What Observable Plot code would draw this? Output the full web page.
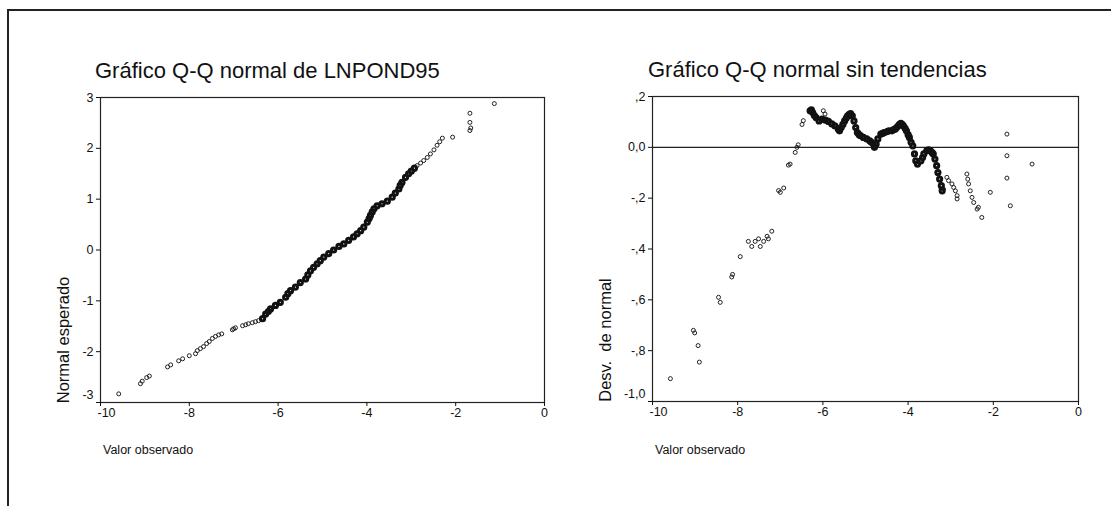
<!DOCTYPE html>
<html><head><meta charset="utf-8">
<script src="https://cdn.jsdelivr.net/npm/d3@7"></script>
<script src="https://cdn.jsdelivr.net/npm/@observablehq/plot@0.6"></script>
<style>
body{margin:0;background:#fff;width:1111px;height:506px;overflow:hidden;position:relative;font-family:Arial,"Liberation Sans",sans-serif;color:#111}
.abs{position:absolute;white-space:nowrap}
.title{font-size:22px;line-height:22px}
.xlab{font-size:12.5px;line-height:12.5px}
.ylab{font-size:16.5px;line-height:16.5px;transform:translate(-50%,-50%) rotate(-90deg)}
#frame{position:absolute;left:7px;top:9px;width:1200px;height:600px;border-top:2px solid #222;border-left:2px solid #222}
</style></head><body>
<div id="frame"></div>
<div id="left" class="abs" style="left:0;top:90px"></div>
<div id="right" class="abs" style="left:555px;top:90px"></div>
<div class="abs title" style="left:95px;top:60px">Gráfico Q-Q normal de LNPOND95</div>
<div class="abs title" style="left:648px;top:59px">Gráfico Q-Q normal sin tendencias</div>
<div class="abs xlab" style="left:103px;top:444px">Valor observado</div>
<div class="abs xlab" style="left:655px;top:444px">Valor observado</div>
<div class="abs ylab" style="left:63px;top:340px">Normal esperado</div>
<div class="abs ylab" style="left:605px;top:340px">Desv.&nbsp; de normal</div>
<script>
// tick values and labels
const xTicks = [-10, -8, -6, -4, -2, 0];
const leftYTicks = [-3, -2, -1, 0, 1, 2, 3];
const rightYTicks = [0.2, 0, -0.2, -0.4, -0.6, -0.8, -1.0];
const rightYTickLabels = [",2", "0,0", "-,2", "-,4", "-,6", "-,8", "-1,0"];

// Q-Q plot: isolated points (tails)
const qqSparseObs = [-9.59,-9.10,-9.06,-8.96,-8.90,-8.49,-8.42,-8.24,-8.15,-8.00,-7.86,-7.82,-7.75,-7.68,-7.61,-7.55,-7.48,-7.41,-7.34,-7.27,-7.03,-7.00,-6.96,-6.80,-6.73,-6.67,-6.58,-6.51,-6.44,
  -2.87,-2.79,-2.72,-2.64,-2.57,-2.49,-2.42,-2.36,-2.30,-2.07,-1.68,-1.68,-1.68,-1.66,-1.13];
const qqSparseExp = [-2.83,-2.63,-2.58,-2.51,-2.48,-2.30,-2.26,-2.18,-2.14,-2.08,-2.04,-1.98,-1.94,-1.90,-1.84,-1.80,-1.74,-1.70,-1.67,-1.65,-1.57,-1.55,-1.53,-1.49,-1.47,-1.45,-1.43,-1.41,-1.39,
  1.66,1.71,1.76,1.82,1.89,1.97,2.06,2.13,2.20,2.22,2.35,2.51,2.69,2.40,2.88];
// Q-Q plot: dense central run
const qqDenseObs = [-6.35,-6.28,-6.22,-6.17,-6.06,-5.95,-5.83,-5.78,-5.72,-5.61,-5.50,-5.38,-5.33,-5.27,-5.20,-5.12,-5.05,-4.97,-4.86,-4.75,-4.63,-4.52,-4.41,-4.30,-4.22,-4.14,-4.07,-3.99,-3.95,-3.92,-3.88,-3.84,-3.77,-3.66,-3.54,-3.43,-3.36,-3.28,-3.25,-3.21,-3.13,-3.06,-3.00,-2.93];
const qqDenseExp = [-1.35,-1.26,-1.21,-1.16,-1.09,-1.03,-0.93,-0.86,-0.80,-0.73,-0.64,-0.57,-0.49,-0.41,-0.34,-0.27,-0.21,-0.14,-0.07,0.00,0.07,0.12,0.19,0.26,0.32,0.38,0.45,0.55,0.62,0.68,0.75,0.81,0.87,0.91,0.96,1.04,1.12,1.20,1.27,1.33,1.43,1.50,1.55,1.61];

// Detrended plot: isolated points
const detSparseObs = [-9.58,-9.04,-9.01,-8.93,-8.90,-8.45,-8.41,-8.14,-8.12,-7.94,-7.75,-7.67,-7.59,-7.51,-7.47,-7.39,-7.31,-7.28,-7.20,-7.04,-7.00,-6.92,-6.81,-6.77,-6.65,-6.61,-6.58,-6.49,-6.46,-5.99,-5.95,
  -3.17,-3.09,-3.05,-2.97,-2.93,-2.89,-2.85,-2.85,-2.62,-2.60,-2.58,-2.54,-2.50,-2.46,-2.38,-2.35,-2.27,-2.07,-1.68,-1.68,-1.68,-1.60,-1.09];
const detSparseDev = [-0.91,-0.72,-0.73,-0.78,-0.845,-0.59,-0.61,-0.51,-0.50,-0.43,-0.37,-0.39,-0.37,-0.36,-0.39,-0.37,-0.35,-0.36,-0.33,-0.17,-0.177,-0.16,-0.07,-0.066,-0.02,0.0,0.01,0.09,0.105,0.144,0.131,
  -0.164,-0.118,-0.131,-0.144,-0.158,-0.171,-0.190,-0.203,-0.105,-0.125,-0.144,-0.171,-0.197,-0.217,-0.243,-0.236,-0.276,-0.177,0.052,-0.033,-0.121,-0.230,-0.066];
// Detrended plot: dense central run
const detDenseObs = [-6.30,-6.27,-6.24,-6.20,-6.16,-6.09,-6.02,-5.94,-5.87,-5.79,-5.72,-5.64,-5.61,-5.57,-5.53,-5.49,-5.45,-5.42,-5.38,-5.35,-5.31,-5.27,-5.23,-5.19,-5.15,-5.12,-5.05,-4.97,-4.90,-4.86,-4.82,-4.79,-4.75,-4.71,-4.64,-4.60,-4.56,-4.49,-4.45,-4.38,-4.34,-4.30,-4.27,-4.23,-4.20,-4.17,-4.14,-4.11,-4.07,-4.04,-4.00,-3.97,-3.93,-3.89,-3.85,-3.82,-3.78,-3.70,-3.66,-3.63,-3.56,-3.52,-3.48,-3.44,-3.41,-3.37,-3.33,-3.30,-3.26,-3.22,-3.20];
const detDenseDev = [0.144,0.147,0.137,0.125,0.117,0.104,0.111,0.107,0.102,0.092,0.085,0.072,0.065,0.078,0.090,0.104,0.115,0.124,0.130,0.133,0.124,0.104,0.078,0.058,0.050,0.046,0.039,0.033,0.026,0.020,0.015,0.000,0.013,0.033,0.052,0.055,0.058,0.062,0.065,0.065,0.070,0.072,0.078,0.085,0.090,0.094,0.090,0.085,0.075,0.065,0.050,0.039,0.020,0.006,-0.026,-0.053,-0.066,-0.053,-0.040,-0.026,-0.013,-0.010,-0.013,-0.020,-0.026,-0.046,-0.072,-0.099,-0.125,-0.151,-0.171];

const font = "Arial, 'Liberation Sans', sans-serif";
const pts = (X, Y) => X.map((x, i) => ({x, y: Y[i]}));
const fmtX = d => d === -10 ? "" : String(d);
const axisStyle = {background: "transparent", fontFamily: font, fontSize: "12.5px", color: "#111", overflow: "visible"};
const tf = {fontSize: 12.5, fontFamily: font, fill: "#111"};

const left = Plot.plot({
  width: 555, height: 340,
  marginLeft: 100, marginRight: 11, marginTop: 7, marginBottom: 28,
  style: axisStyle,
  x: {domain: [-10, 0]},
  y: {domain: [-3, 3]},
  marks: [
    Plot.frame({stroke: "#222", strokeWidth: 1.2}),
    Plot.axisX(xTicks, {...tf, tickSize: 4, tickPadding: 2, tickFormat: fmtX, label: null}),
    Plot.axisX([xTicks[0]], {...tf, tickSize: 0, tickPadding: 6, dx: 6, tickFormat: d => String(d), label: null}),
    Plot.axisY(leftYTicks, {...tf, tickSize: 4, tickPadding: 3, tickFormat: d => d === -3 ? "" : String(d), label: null}),
    Plot.axisY([leftYTicks[0]], {...tf, tickSize: 0, tickPadding: 7, dy: -8, tickFormat: d => String(d), label: null}),
    Plot.dot(pts(qqSparseObs, qqSparseExp), {x: "x", y: "y", r: 2, stroke: "#222", strokeWidth: 1, fill: "none"}),
    Plot.dot(pts(qqDenseObs, qqDenseExp), {x: "x", y: "y", r: 2.1, stroke: "#111", strokeWidth: 3, fill: "none"})
  ]
});
document.getElementById("left").append(left);

const rmap = new Map(rightYTicks.map((t, i) => [t, rightYTickLabels[i]]));
const right = Plot.plot({
  width: 556, height: 340,
  marginLeft: 97, marginRight: 33, marginTop: 6, marginBottom: 29,
  style: axisStyle,
  x: {domain: [-10, 0]},
  y: {domain: [-1.0, 0.2]},
  marks: [
    Plot.frame({stroke: "#222", strokeWidth: 1.2}),
    Plot.ruleY([0], {stroke: "#222", strokeWidth: 1.2}),
    Plot.axisX(xTicks, {...tf, tickSize: 4, tickPadding: 2, tickFormat: fmtX, label: null}),
    Plot.axisX([xTicks[0]], {...tf, tickSize: 0, tickPadding: 6, dx: 6, tickFormat: d => String(d), label: null}),
    Plot.axisY(rightYTicks, {...tf, tickSize: 4, tickPadding: 3, tickFormat: d => d === -1.0 ? "" : rmap.get(d), label: null}),
    Plot.axisY([rightYTicks[6]], {...tf, tickSize: 0, tickPadding: 7, dy: -8, tickFormat: d => rmap.get(d), label: null}),
    Plot.dot(pts(detSparseObs, detSparseDev), {x: "x", y: "y", r: 2, stroke: "#222", strokeWidth: 1, fill: "none"}),
    Plot.dot(pts(detDenseObs, detDenseDev), {x: "x", y: "y", r: 2.1, stroke: "#111", strokeWidth: 3, fill: "none"})
  ]
});
document.getElementById("right").append(right);
</script>
</body></html>
